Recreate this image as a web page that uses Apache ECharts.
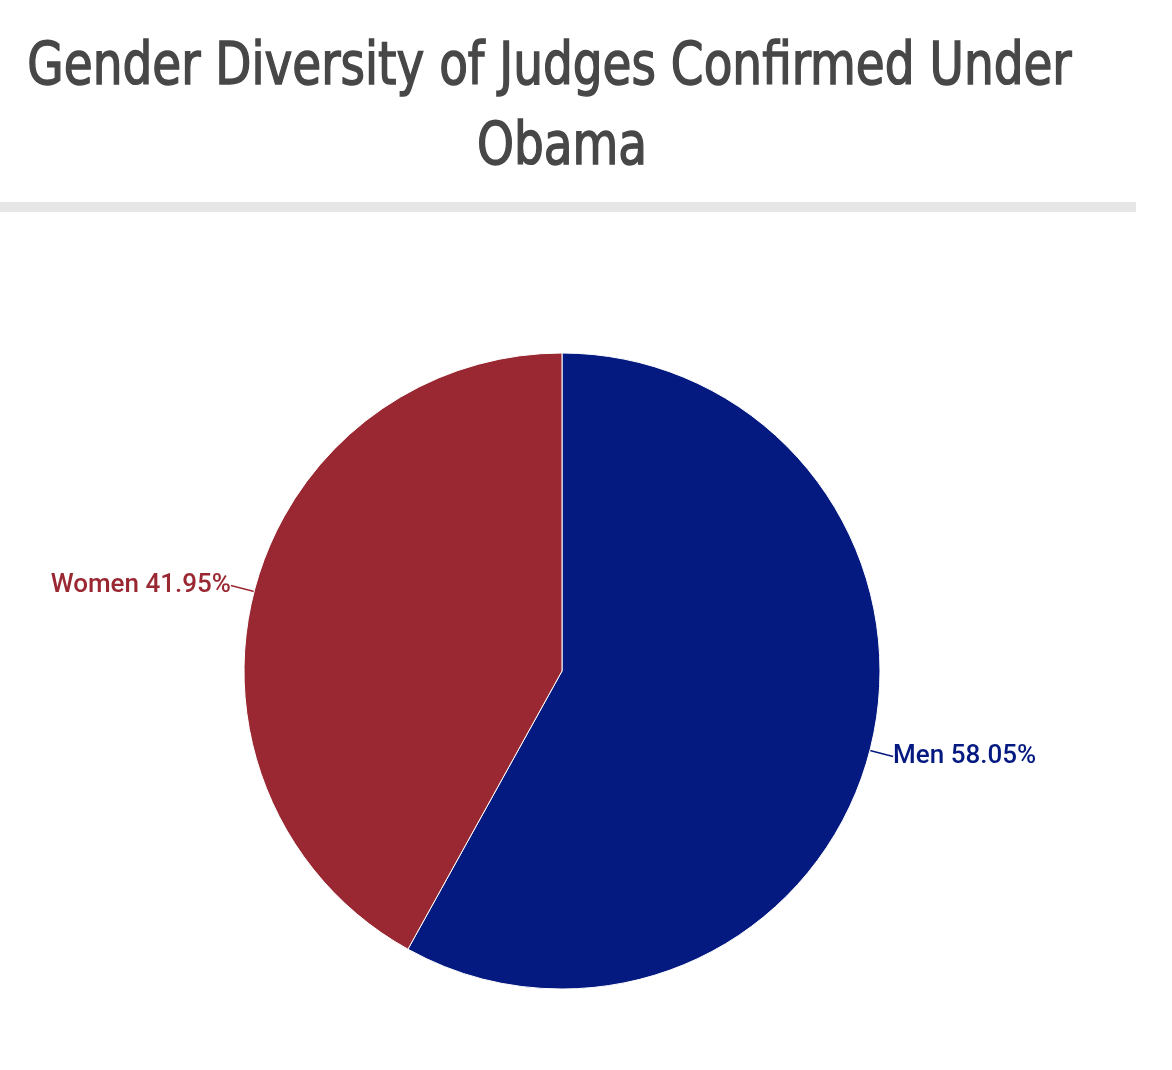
<!DOCTYPE html>
<html>
<head>
<meta charset="utf-8">
<script src="https://cdn.jsdelivr.net/npm/echarts@6/dist/echarts.min.js"></script>
<style>
html,body{margin:0;padding:0;background:#fff;}
#chart{width:1172px;height:1070px;}
</style>
</head>
<body>
<div id="chart"></div>
<script>
const titleLines = ["Gender Diversity of Judges Confirmed Under", "Obama"];
const categories = ["Men", "Women"];
const percentages = [58.05, 41.95];
const colors = ["#041a80", "#9a2832"];

const titleFont = 'normal 58px "DejaVu Sans Condensed", "DejaVu Sans", sans-serif';
const titleScale = 0.9;

const chart = echarts.init(document.getElementById('chart'), null, {renderer: 'canvas'});
chart.setOption({
  animation: false,
  backgroundColor: '#ffffff',
  graphic: [
    {
      type: 'text',
      x: 549.5, y: 69, scaleX: titleScale, scaleY: 1,
      style: {text: titleLines[0], align: 'center', verticalAlign: 'middle', font: titleFont, fill: '#474747', stroke: '#474747', lineWidth: 1.4},
      silent: true
    },
    {
      type: 'text',
      x: 562, y: 149, scaleX: titleScale, scaleY: 1,
      style: {text: titleLines[1], align: 'center', verticalAlign: 'middle', font: titleFont, fill: '#474747', stroke: '#474747', lineWidth: 1.4},
      silent: true
    },
    {
      type: 'rect',
      shape: {x: 0, y: 202, width: 1136, height: 10},
      style: {fill: '#e6e6e6'},
      silent: true
    }
  ],
  series: [{
    type: 'pie',
    center: [562, 671],
    radius: 318,
    startAngle: 90,
    clockwise: true,
    data: categories.map((c, i) => ({
      name: c,
      value: percentages[i],
      itemStyle: {color: colors[i]},
      label: {color: colors[i]}
    })),
    itemStyle: {borderColor: '#ffffff', borderWidth: 1},
    label: {
      show: true,
      formatter: p => p.name + ' ' + p.value.toFixed(2) + '%',
      fontFamily: 'Roboto, sans-serif',
      fontSize: 26,
      fontWeight: 500,
      padding: [0, 0, 22, 0],
      distanceToLabelLine: 0
    },
    labelLine: {
      show: true,
      length: 24,
      length2: 0,
      lineStyle: {width: 1.5}
    }
  }]
});
</script>
</body>
</html>
